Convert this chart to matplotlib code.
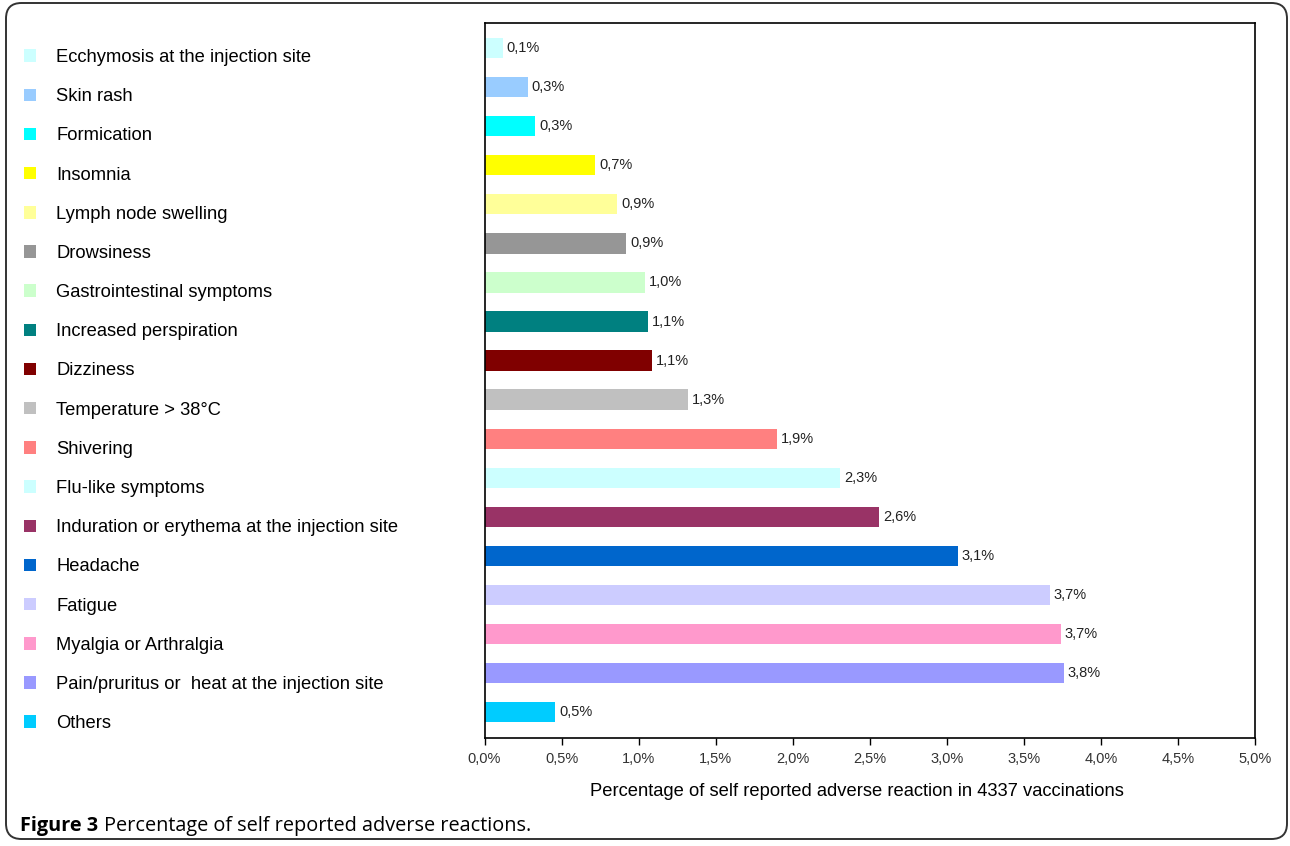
import matplotlib
matplotlib.use("Agg")
import matplotlib.pyplot as plt
from matplotlib.patches import Patch, FancyBboxPatch
from matplotlib.ticker import FuncFormatter

categories = [
    "Ecchymosis at the injection site",
    "Skin rash",
    "Formication",
    "Insomnia",
    "Lymph node swelling",
    "Drowsiness",
    "Gastrointestinal symptoms",
    "Increased perspiration",
    "Dizziness",
    "Temperature > 38°C",
    "Shivering",
    "Flu-like symptoms",
    "Induration or erythema at the injection site",
    "Headache",
    "Fatigue",
    "Myalgia or Arthralgia",
    "Pain/pruritus or  heat at the injection site",
    "Others",
]
values = [0.12, 0.28, 0.33, 0.72, 0.86, 0.92, 1.04, 1.06, 1.09, 1.32,
          1.90, 2.31, 2.56, 3.07, 3.67, 3.74, 3.76, 0.46]
value_labels = ["0,1%", "0,3%", "0,3%", "0,7%", "0,9%", "0,9%", "1,0%", "1,1%", "1,1%",
                "1,3%", "1,9%", "2,3%", "2,6%", "3,1%", "3,7%", "3,7%", "3,8%", "0,5%"]
colors = ["#CCFFFF", "#99CCFF", "#00FFFF", "#FFFF00", "#FFFF99", "#969696",
          "#CCFFCC", "#008080", "#800000", "#C0C0C0", "#FF8080", "#CCFFFF",
          "#993366", "#0066CC", "#CCCCFF", "#FF99CC", "#9999FF", "#00CCFF"]
xticks = [0.0, 0.5, 1.0, 1.5, 2.0, 2.5, 3.0, 3.5, 4.0, 4.5, 5.0]
xlabel = "Percentage of self reported adverse reaction in 4337 vaccinations"

W, H = 1290, 846
plt.rcParams['font.family'] = ['Liberation Sans', 'DejaVu Sans']
fig = plt.figure(figsize=(W / 100, H / 100), dpi=100)

# outer rounded frame
frame = FancyBboxPatch((6 / W, 7 / H), (1281 / W), (836 / H),
                       boxstyle="round,pad=0,rounding_size=0.012",
                       transform=fig.transFigure, fill=False,
                       edgecolor="#333333", linewidth=1.4, mutation_aspect=W / H)
fig.patches.append(frame)

left, right, top, bottom = 484.5, 1255, 23, 738
ax = fig.add_axes([left / W, 1 - bottom / H, (right - left) / W, (bottom - top) / H])
y = list(range(len(categories)))
ax.barh(y, values, height=0.52, color=colors, edgecolor='none')
for yi, v, lab in zip(y, values, value_labels):
    ax.text(v + 0.025, yi, lab, va='center', ha='left', fontsize=10.5, color='#222222')
ax.set_xlim(0, 5.0)
ax.set_ylim(len(categories) - 1 + 0.66, -0.64)
ax.set_xticks(xticks)
ax.xaxis.set_major_formatter(FuncFormatter(lambda v, p: f"{v:.1f}%".replace('.', ',')))
ax.set_yticks([])
ax.tick_params(axis='x', direction='out', length=5, width=1, labelsize=10.5,
               labelcolor='#333333', pad=5)
for s in ax.spines.values():
    s.set_linewidth(1.2)
    s.set_color('black')
ax.set_xlabel(xlabel, fontsize=13.2)
ax.xaxis.set_label_coords(0.483, -0.063)

handles = [Patch(facecolor=c, edgecolor='none') for c in colors]
fs_leg = 13.2
fig.legend(handles, categories, loc='upper left',
           bbox_to_anchor=(24 / W, 1 - 49 / H), frameon=False,
           fontsize=fs_leg, handlelength=0.67, handleheight=0.67,
           handletextpad=1.1, labelspacing=1.21, borderpad=0, borderaxespad=0)

cap_y = 1 - 826 / H
t1 = fig.text(20 / W, cap_y, "Figure 3", fontsize=14.3, fontweight='bold',
              family=['Open Sans', 'DejaVu Sans'], va='center', ha='left')
fig.canvas.draw()
bb = t1.get_window_extent()
fig.text((bb.x1 + 6) / W, cap_y, "Percentage of self reported adverse reactions.",
         fontsize=14.3, family=['Open Sans', 'DejaVu Sans'], va='center', ha='left')

fig.savefig("out.png", dpi=100)
